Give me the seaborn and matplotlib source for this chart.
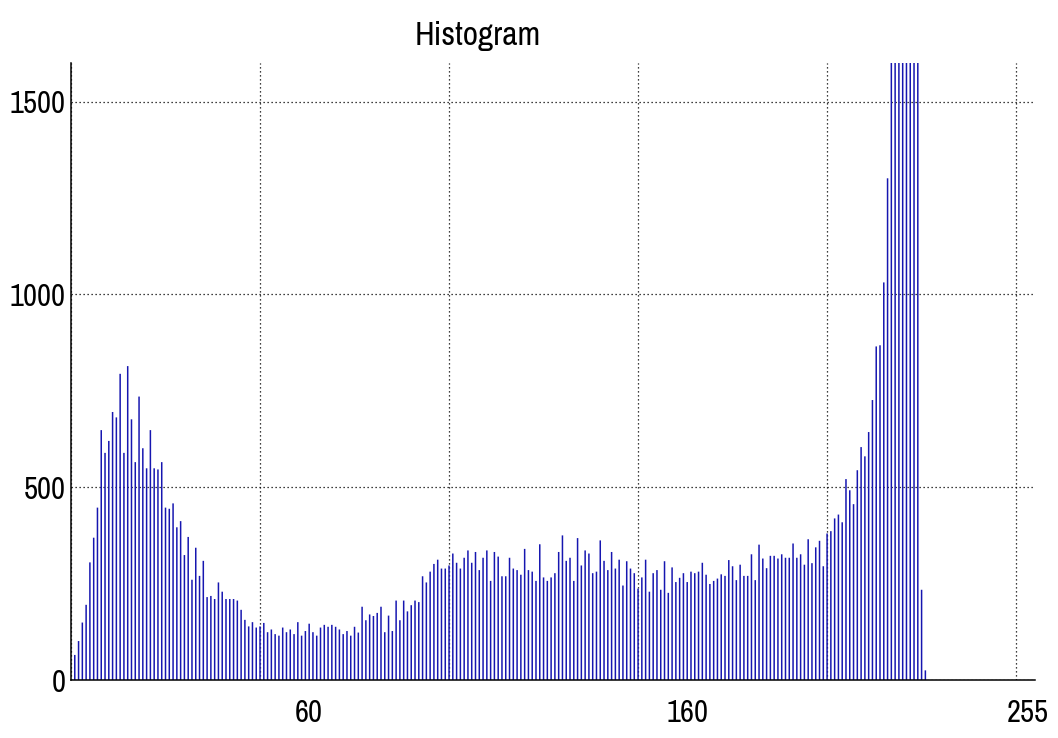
import matplotlib
matplotlib.use("Agg")
import matplotlib.pyplot as plt
from matplotlib import font_manager as fm
import pandas as pd
import seaborn as sns

# Grey-level histogram of an 8-bit image: one count per intensity 0..255.
levels = list(range(256))
counts = [
    0,
    65, 101, 149, 195, 305, 369, 447, 648, 589, 620,
    695, 681, 794, 589, 814, 676, 565, 735, 601, 549,
    648, 549, 546, 565, 447, 444, 458, 396, 412, 324,
    371, 260, 343, 270, 309, 215, 218, 210, 253, 229,
    210, 210, 210, 206, 182, 156, 139, 150, 136, 139,
    148, 124, 131, 119, 115, 136, 124,
    131, 119, 150, 115, 127, 146, 124, 115, 136, 143,
    138, 143, 138, 131, 119, 127, 115, 138, 123, 190,
    155, 170, 166, 174, 190, 124, 167, 127, 206, 155,
    206, 178, 194, 206, 202, 269, 253, 281, 301, 312,
    289, 289, 297, 328, 304, 289, 317, 336, 304, 332,
    285, 317, 336, 257, 332, 320, 269,
    269, 317, 289, 285, 273, 340, 285, 281, 257, 352,
    266, 257, 266, 277, 332, 375, 309, 317, 257, 368,
    297, 336, 328, 277, 281, 362, 309, 285, 332, 289,
    312, 245, 308, 289, 277, 237, 266, 312, 229, 277,
    285, 234, 308, 226, 292, 254, 265, 277, 254, 281,
    277, 281, 304, 273, 249, 257,
    263, 274, 270, 311, 295, 259, 299, 270, 270, 326,
    259, 351, 315, 290, 322, 322, 315, 326, 317, 317,
    354, 317, 326, 299, 365, 303, 344, 361, 295, 380,
    386, 419, 429, 409, 521, 492, 456, 544, 604, 580,
    643, 726, 865, 868, 1031, 1301,
    1720, 2150, 2680, 3240, 3610, 3370, 2790, 1980,
    234, 25,
    0, 0, 0, 0, 0, 0, 0, 0, 0, 0,
    0, 0, 0, 0, 0, 0, 0, 0, 0, 0,
    0, 0, 0, 0, 0, 0, 0, 0, 0,
]

y_ticks = [0, 500, 1000, 1500]
grid_x = [0, 50, 100, 150, 200, 250]
x_label_pos = [63, 163, 253]
x_label_text = ["60", "160", "255"]
title_text = "Histogram"


def narrow_sans_file():
    """Return the file of an upright, regular-weight narrow sans face, if any."""
    rank = {"condensed": 0, "extra-condensed": 1, "semi-condensed": 2}
    found = []
    for f in fm.fontManager.ttflist:
        if any(s in f.name for s in ("Mono", "Serif", "CJK", "Math")):
            continue
        if f.style != "normal" or str(f.weight) not in ("400", "normal", "regular", "book"):
            continue
        if "Narrow" in f.name:
            found.append((0, f.fname))
        elif f.stretch in rank or "Condensed" in f.name:
            found.append((1 + rank.get(f.stretch, 0), f.fname))
    found.sort()
    return found[0][1] if found else None


sns.set_theme(style="white")
plt.rcParams["font.family"] = ["Liberation Sans", "DejaVu Sans"]

narrow_file = narrow_sans_file()
if narrow_file:
    label_font = fm.FontProperties(fname=narrow_file)
else:
    label_font = fm.FontProperties(family=["Liberation Sans", "DejaVu Sans"])

W, H = 1058, 738
fig = plt.figure(figsize=(W / 100, H / 100), dpi=100)
ax = fig.add_axes([71 / W, 58 / H, 964 / W, 617 / H])

df = pd.DataFrame({"level": levels, "count": counts})
sns.histplot(
    data=df, x="level", weights="count", discrete=True, shrink=0.4,
    color="#1616b0", alpha=1.0, linewidth=0, snap=False, ax=ax,
)

ax.set_xlim(0, 255)
ax.set_ylim(0, 1600)
ax.set_xlabel("")
ax.set_ylabel("")

# dotted grid behind the stems
ax.set_axisbelow(True)
ax.set_xticks(grid_x)
ax.set_yticks(y_ticks)
ax.grid(True, which="major", color="black", linestyle=(0, (1, 2.2)), linewidth=0.9)

ax.tick_params(axis="both", which="major", direction="in", length=7, width=1.1,
               color="black", labelcolor="black")
ax.tick_params(axis="x", which="major", labelbottom=False)
ax.tick_params(axis="y", which="major", pad=4)

ax.set_xticks(x_label_pos, minor=True)
ax.set_xticklabels(x_label_text, minor=True)
ax.tick_params(axis="x", which="minor", length=0, pad=14, labelcolor="black")

for side in ("top", "right"):
    ax.spines[side].set_visible(False)
for side in ("left", "bottom"):
    ax.spines[side].set_color("black")
    ax.spines[side].set_linewidth(1.1)

title = ax.set_title(title_text, x=0.422, pad=13, color="black")
title.set_fontproperties(label_font)

tick_texts = list(ax.get_yticklabels()) + list(ax.get_xticklabels(minor=True))
for t in tick_texts:
    t.set_fontproperties(label_font)
    t.set_fontsize(20)
title.set_fontsize(20)

# size the labels so "1500" spans ~56 px and the title ~140 px
fig.canvas.draw()
renderer = fig.canvas.get_renderer()
widest = max(ax.get_yticklabels(), key=lambda t: len(t.get_text()))
label_size = min(20 * 56 / widest.get_window_extent(renderer).width, 29)
title_size = min(20 * 140 / title.get_window_extent(renderer).width, 24)
for t in tick_texts:
    t.set_fontsize(label_size)
ax.tick_params(axis="y", which="major", labelsize=label_size)
ax.tick_params(axis="x", which="minor", labelsize=label_size)
title.set_fontsize(title_size)

fig.savefig("out.png", dpi=100, facecolor="white")
